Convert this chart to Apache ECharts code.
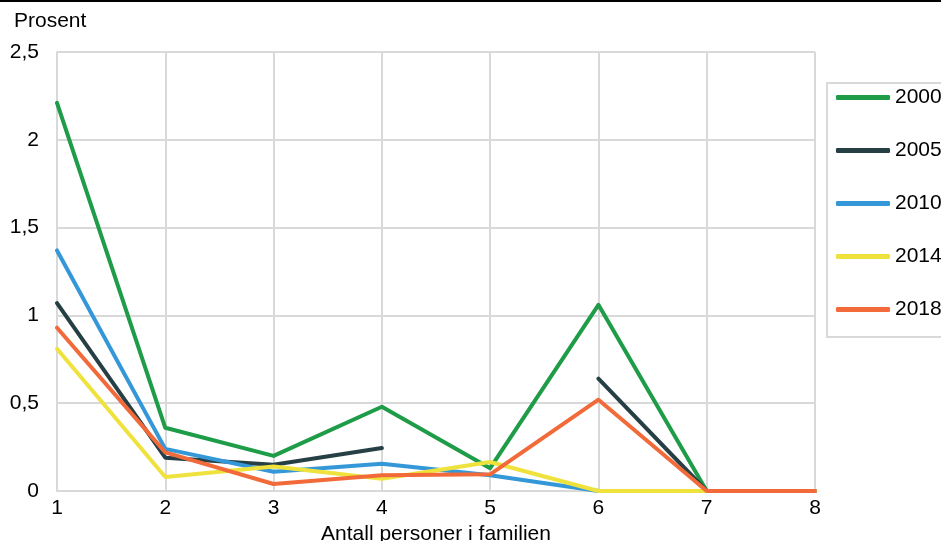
<!DOCTYPE html>
<html>
<head>
<meta charset="utf-8">
<script src="https://cdn.jsdelivr.net/npm/echarts@6/dist/echarts.min.js"></script>
<style>
html,body{margin:0;padding:0;background:#fff;overflow:hidden;}
#c{width:941px;height:541px;}
</style>
</head>
<body>
<div id="c"></div>
<script>
const categories = ['1','2','3','4','5','6','7','8'];
const years = ['2000','2005','2010','2014','2018'];
const s2000 = [2.21, 0.36, 0.20, 0.48, 0.13, 1.06, 0, 0];
const s2005 = [1.07, 0.19, 0.15, 0.245, null, 0.64, 0, 0];
const s2010 = [1.37, 0.24, 0.11, 0.155, 0.09, 0, 0, 0];
const s2014 = [0.81, 0.08, 0.14, 0.07, 0.165, 0, 0, 0];
const s2018 = [0.93, 0.22, 0.04, 0.09, 0.095, 0.52, 0, 0];
const yTicks = [0, 0.5, 1, 1.5, 2, 2.5];
const colors = ['#1e9c48', '#263f45', '#3497d8', '#efe23d', '#f26a3a'];
const seriesData = [s2000, s2005, s2010, s2014, s2018];

const font = 'Liberation Sans, Arial, sans-serif';
const fs = 21;
const chart = echarts.init(document.getElementById('c'));
chart.setOption({
  animation: false,
  textStyle: { fontFamily: font },
  grid: { left: 57, right: 126, top: 52, bottom: 50, containLabel: false, outerBoundsMode: 'none' },
  xAxis: {
    type: 'category',
    data: categories,
    boundaryGap: false,
    name: 'Antall personer i familien',
    nameLocation: 'middle',
    nameGap: 29,
    nameTextStyle: { fontSize: fs, color: '#000', fontFamily: font },
    axisLine: { show: true, lineStyle: { color: '#d9d9d9', width: 2 } },
    axisTick: { show: false },
    axisLabel: { fontSize: fs, color: '#000', margin: 7, fontFamily: font },
    splitLine: { show: true, lineStyle: { color: '#d9d9d9', width: 2 } }
  },
  yAxis: {
    type: 'value',
    min: yTicks[0],
    max: yTicks[yTicks.length - 1],
    interval: 0.5,
    axisLine: { show: true, lineStyle: { color: '#d9d9d9', width: 2 } },
    axisTick: { show: false },
    axisLabel: {
      fontSize: fs, color: '#000', margin: 18, fontFamily: font,
      formatter: v => String(v).replace('.', ',')
    },
    splitLine: { show: true, lineStyle: { color: '#d9d9d9', width: 2 } }
  },
  legend: {
    orient: 'vertical',
    left: 827,
    top: 83,
    padding: [4, 10, 17, 9],
    itemGap: 32,
    itemWidth: 54,
    itemHeight: 5,
    icon: 'roundRect',
    borderColor: '#d9d9d9',
    borderWidth: 2,
    backgroundColor: '#fff',
    textStyle: { fontSize: fs, color: '#000', lineHeight: 20, fontFamily: font },
    data: years
  },
  graphic: [
    { type: 'rect', left: 0, top: 0, shape: { width: 941, height: 2 }, style: { fill: '#000' } },
    { type: 'text', left: 14, top: 11, style: { text: 'Prosent', fontSize: fs, fill: '#000', fontFamily: font } }
  ],
  series: years.map((y, i) => ({
    name: y,
    type: 'line',
    data: seriesData[i],
    symbol: 'none',
    connectNulls: false,
    color: colors[i],
    lineStyle: { width: 4, color: colors[i], cap: 'round', join: 'round' }
  }))
});
</script>
</body>
</html>
